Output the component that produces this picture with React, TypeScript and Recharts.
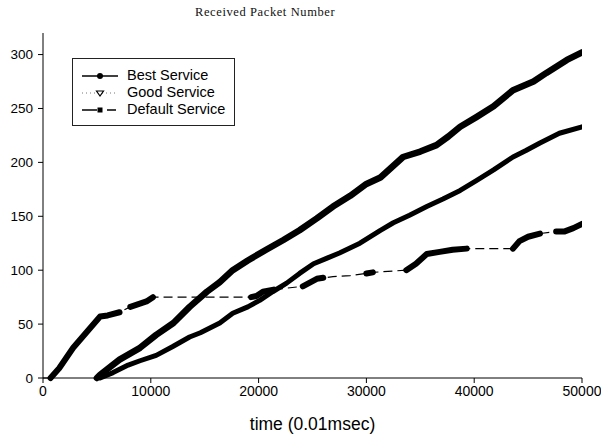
import { LineChart, Line, XAxis, YAxis, Legend, Label } from "recharts";

// received packets over time
const bestService: [number, number][] = [
  [5000, 0], [5300, 3], [7100, 17], [9000, 28], [10500, 40],
  [12100, 51], [13600, 66], [15200, 80], [16400, 89], [17600, 100],
  [19000, 109], [20700, 119], [22300, 128], [23800, 137], [25400, 148],
  [26900, 159], [28500, 169], [30000, 180], [31300, 186], [32300, 195],
  [33400, 205], [35000, 210], [36500, 216], [37600, 224], [38700, 233],
  [40200, 242], [41800, 252], [43600, 267], [45500, 275], [46700, 283],
  [48600, 295], [50000, 302],
];

const goodService: [number, number][] = [
  [5300, 0], [6500, 5], [7900, 12], [9000, 16], [10500, 21],
  [12000, 29], [13600, 38], [14600, 42], [16400, 51], [17600, 60],
  [19000, 66], [20100, 72], [21300, 80], [22600, 88], [23800, 97],
  [25100, 106], [26300, 111], [27500, 116], [29400, 125], [31300, 137],
  [32500, 144], [34000, 151], [35600, 159], [37100, 166], [38700, 174],
  [40200, 183], [41800, 193], [43600, 205], [44800, 211], [46100, 218],
  [47900, 227], [50000, 233],
];

// default service arrives in bursts with long gaps between them
const defaultService: [number, number][] = [
  [0, 0], [700, 0], [1500, 9], [2800, 28], [4000, 42], [5300, 57],
  [6000, 58], [7100, 61], [8100, 66], [9600, 71], [10200, 75],
  [19300, 75], [19800, 76], [20400, 80], [21400, 82], [24100, 85],
  [25400, 92], [26900, 94], [28500, 95], [30600, 98], [33700, 100],
  [34600, 106], [35600, 115], [36800, 117], [38000, 119], [39300, 120],
  [43600, 120], [44200, 127], [45000, 131], [46100, 134], [47600, 136],
  [48400, 136], [49200, 139], [50000, 143],
];

const defaultBursts: [number, number][][] = [
  [[700, 0], [1500, 9], [2800, 28], [4000, 42], [5300, 57], [6000, 58], [7100, 61]],
  [[8100, 66], [9600, 71], [10200, 75]],
  [[19300, 75], [19800, 76], [20400, 80], [21400, 82]],
  [[24100, 85], [25400, 92], [26000, 93]],
  [[30000, 97], [30600, 98]],
  [[33700, 100], [34600, 106], [35600, 115], [36800, 117], [38000, 119], [39300, 120]],
  [[43600, 120], [44200, 127], [45000, 131], [46100, 134]],
  [[47600, 136], [48400, 136], [49200, 139], [50000, 143]],
];

const xTicks = [0, 10000, 20000, 30000, 40000, 50000];
const yTicks = [0, 50, 100, 150, 200, 250, 300];

const toRows = (pts: [number, number][]) => pts.map(([t, v]) => ({ t, v }));

const legendItems = ["Best Service", "Good Service", "Default Service"];

const font = "'Liberation Sans', Arial, sans-serif";

function LegendIcon({ index }: { index: number }) {
  if (index === 0) {
    return (
      <svg width={37} height={10}>
        <line x1={0} y1={5} x2={36} y2={5} stroke="#000" strokeWidth={1.5} />
        <circle cx={18} cy={5} r={3} fill="#000" />
      </svg>
    );
  }
  if (index === 1) {
    return (
      <svg width={37} height={10}>
        <line x1={0} y1={5} x2={36} y2={5} stroke="#777" strokeWidth={1} strokeDasharray="1 3" />
        <path d="M14.5,3 L21.5,3 L18,8 Z" fill="#fff" stroke="#000" strokeWidth={1.2} />
      </svg>
    );
  }
  return (
    <svg width={37} height={10}>
      <line x1={0} y1={5} x2={15} y2={5} stroke="#000" strokeWidth={1.5} />
      <rect x={15.5} y={2.5} width={5} height={5} fill="#000" />
      <line x1={25} y1={5} x2={34} y2={5} stroke="#000" strokeWidth={1.5} />
    </svg>
  );
}

function LegendBox() {
  return (
    <div
      style={{
        border: "1px solid #222",
        background: "#fff",
        width: 163,
        height: 68,
        boxSizing: "border-box",
        padding: "8px 0 0 9px",
        fontFamily: font,
        fontSize: 14.5,
        color: "#000",
      }}
    >
      {legendItems.map((name, i) => (
        <div key={name} style={{ display: "flex", alignItems: "center", height: 17 }}>
          <LegendIcon index={i} />
          <span style={{ marginLeft: 8, lineHeight: "17px" }}>{name}</span>
        </div>
      ))}
    </div>
  );
}

export default function App() {
  const tickStyle = { fontSize: 13.5, fill: "#000", fontFamily: font };
  return (
    <div style={{ position: "absolute", left: 0, top: 0, width: 601, height: 436, background: "#fff" }}>
      <div
        style={{
          position: "absolute",
          left: 195,
          top: 5,
          fontFamily: "'Liberation Serif', 'Times New Roman', serif",
          fontSize: 12.5,
          letterSpacing: 0.6,
          color: "#111",
          whiteSpace: "nowrap",
        }}
      >
        Received Packet Number
      </div>
      <LineChart width={601} height={436} margin={{ top: 33, right: 19, left: 8, bottom: 0 }}>
        <XAxis
          dataKey="t"
          type="number"
          domain={[0, 50000]}
          ticks={xTicks}
          allowDataOverflow
          tick={{ ...tickStyle, fontSize: 14 }}
          tickSize={5}
          tickMargin={3}
          stroke="#000"
          height={58}
        >
          <Label
            value="time (0.01msec)"
            position="insideBottom"
            offset={6}
            style={{ fontSize: 17.5, fill: "#000", fontFamily: font }}
          />
        </XAxis>
        <XAxis xAxisId="top" orientation="top" type="number" domain={[0, 50000]} tick={false} tickLine={false} height={0} stroke="#666" />
        <YAxis
          type="number"
          domain={[0, 320]}
          ticks={yTicks}
          tick={tickStyle}
          tickSize={5}
          tickMargin={5}
          stroke="#000"
          width={35}
        />
        <YAxis yAxisId="right" orientation="right" domain={[0, 320]} tick={false} tickLine={false} width={0} stroke="#555" />
        <Legend
          layout="vertical"
          align="center"
          verticalAlign="middle"
          content={<LegendBox />}
          wrapperStyle={{ left: 72, top: 58, width: 165, height: 70 }}
        />
        <Line
          data={toRows(defaultService)}
          dataKey="v"
          name="Default Service trace"
          stroke="#000"
          strokeWidth={1.2}
          strokeDasharray="9 5"
          dot={false}
          legendType="none"
          isAnimationActive={false}
        />
        {defaultBursts.map((run, i) => (
          <Line
            key={"burst" + i}
            data={toRows(run)}
            dataKey="v"
            name={"Default Service " + i}
            stroke="#000"
            strokeWidth={6}
            strokeLinecap="round"
            strokeLinejoin="round"
            dot={false}
            legendType="none"
            isAnimationActive={false}
          />
        ))}
        <Line
          data={toRows(goodService)}
          dataKey="v"
          name="Good Service"
          stroke="#000"
          strokeWidth={5}
          strokeLinecap="round"
          strokeLinejoin="round"
          dot={false}
          isAnimationActive={false}
        />
        <Line
          data={toRows(bestService)}
          dataKey="v"
          name="Best Service"
          stroke="#000"
          strokeWidth={6.5}
          strokeLinecap="round"
          strokeLinejoin="round"
          dot={false}
          isAnimationActive={false}
        />
      </LineChart>
    </div>
  );
}
